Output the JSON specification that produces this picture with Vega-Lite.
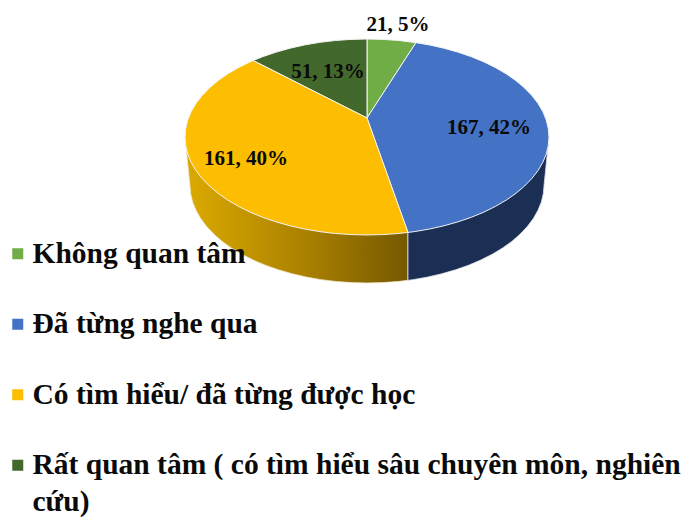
{"$schema":"https://vega.github.io/schema/vega-lite/v6.json","width":685,"height":517,"padding":0,"autosize":"none","background":"white","config":{"view":{"stroke":null},"style":{"guide-label":{"lineHeight":37}}},
"datasets":{
"slices":[
{"k":"G","name":"Không quan tâm","value":21,"pct":5,"label":"21, 5%","lx":0.170,"ly":1.143},
{"k":"B","name":"Đã từng nghe qua","value":167,"pct":42,"label":"167, 42%","lx":0.670,"ly":0.092},
{"k":"Y","name":"Có tìm hiểu/ đã từng được học","value":161,"pct":40,"label":"161, 40%","lx":-0.665,"ly":-0.224},
{"k":"D","name":"Rất quan tâm ( có tìm hiểu sâu chuyên môn, nghiên cứu)","value":51,"pct":13,"label":"51, 13%","lx":-0.214,"ly":0.663}],
"top":[
{"k":"G","i":0,"x":0,"y":0.194},{"k":"G","i":1,"x":0,"y":1},{"k":"G","i":2,"x":0.087,"y":0.996},{"k":"G","i":3,"x":0.174,"y":0.985},{"k":"G","i":4,"x":0.269,"y":0.963},{"k":"G","i":5,"x":0,"y":0.194},
{"k":"D","i":0,"x":0,"y":0.194},{"k":"D","i":1,"x":-0.626,"y":0.78},{"k":"D","i":2,"x":-0.574,"y":0.819},{"k":"D","i":3,"x":-0.5,"y":0.866},{"k":"D","i":4,"x":-0.423,"y":0.906},{"k":"D","i":5,"x":-0.342,"y":0.94},{"k":"D","i":6,"x":-0.259,"y":0.966},{"k":"D","i":7,"x":-0.174,"y":0.985},{"k":"D","i":8,"x":-0.087,"y":0.996},{"k":"D","i":9,"x":0,"y":1},{"k":"D","i":10,"x":0,"y":0.194},
{"k":"B","i":0,"x":0,"y":0.194},{"k":"B","i":1,"x":0.269,"y":0.963},{"k":"B","i":2,"x":0.342,"y":0.94},{"k":"B","i":3,"x":0.423,"y":0.906},{"k":"B","i":4,"x":0.5,"y":0.866},{"k":"B","i":5,"x":0.574,"y":0.819},{"k":"B","i":6,"x":0.643,"y":0.766},{"k":"B","i":7,"x":0.707,"y":0.707},{"k":"B","i":8,"x":0.766,"y":0.643},{"k":"B","i":9,"x":0.819,"y":0.574},{"k":"B","i":10,"x":0.866,"y":0.5},{"k":"B","i":11,"x":0.906,"y":0.423},{"k":"B","i":12,"x":0.94,"y":0.342},{"k":"B","i":13,"x":0.966,"y":0.259},{"k":"B","i":14,"x":0.985,"y":0.174},{"k":"B","i":15,"x":0.996,"y":0.087},{"k":"B","i":16,"x":1,"y":0},{"k":"B","i":17,"x":0.996,"y":-0.087},{"k":"B","i":18,"x":0.985,"y":-0.174},{"k":"B","i":19,"x":0.966,"y":-0.259},{"k":"B","i":20,"x":0.94,"y":-0.342},{"k":"B","i":21,"x":0.906,"y":-0.423},{"k":"B","i":22,"x":0.866,"y":-0.5},{"k":"B","i":23,"x":0.819,"y":-0.574},{"k":"B","i":24,"x":0.766,"y":-0.643},{"k":"B","i":25,"x":0.707,"y":-0.707},{"k":"B","i":26,"x":0.643,"y":-0.766},{"k":"B","i":27,"x":0.574,"y":-0.819},{"k":"B","i":28,"x":0.5,"y":-0.866},{"k":"B","i":29,"x":0.423,"y":-0.906},{"k":"B","i":30,"x":0.342,"y":-0.94},{"k":"B","i":31,"x":0.259,"y":-0.966},{"k":"B","i":32,"x":0.225,"y":-0.974},{"k":"B","i":33,"x":0,"y":0.194},
{"k":"Y","i":0,"x":0,"y":0.194},{"k":"Y","i":1,"x":-0.626,"y":0.78},{"k":"Y","i":2,"x":-0.643,"y":0.766},{"k":"Y","i":3,"x":-0.707,"y":0.707},{"k":"Y","i":4,"x":-0.766,"y":0.643},{"k":"Y","i":5,"x":-0.819,"y":0.574},{"k":"Y","i":6,"x":-0.866,"y":0.5},{"k":"Y","i":7,"x":-0.906,"y":0.423},{"k":"Y","i":8,"x":-0.94,"y":0.342},{"k":"Y","i":9,"x":-0.966,"y":0.259},{"k":"Y","i":10,"x":-0.985,"y":0.174},{"k":"Y","i":11,"x":-0.996,"y":0.087},{"k":"Y","i":12,"x":-1,"y":0},{"k":"Y","i":13,"x":-0.996,"y":-0.087},{"k":"Y","i":14,"x":-0.985,"y":-0.174},{"k":"Y","i":15,"x":-0.966,"y":-0.259},{"k":"Y","i":16,"x":-0.94,"y":-0.342},{"k":"Y","i":17,"x":-0.906,"y":-0.423},{"k":"Y","i":18,"x":-0.866,"y":-0.5},{"k":"Y","i":19,"x":-0.819,"y":-0.574},{"k":"Y","i":20,"x":-0.766,"y":-0.643},{"k":"Y","i":21,"x":-0.707,"y":-0.707},{"k":"Y","i":22,"x":-0.643,"y":-0.766},{"k":"Y","i":23,"x":-0.574,"y":-0.819},{"k":"Y","i":24,"x":-0.5,"y":-0.866},{"k":"Y","i":25,"x":-0.423,"y":-0.906},{"k":"Y","i":26,"x":-0.342,"y":-0.94},{"k":"Y","i":27,"x":-0.259,"y":-0.966},{"k":"Y","i":28,"x":-0.174,"y":-0.985},{"k":"Y","i":29,"x":-0.087,"y":-0.996},{"k":"Y","i":30,"x":0,"y":-1},{"k":"Y","i":31,"x":0.087,"y":-0.996},{"k":"Y","i":32,"x":0.174,"y":-0.985},{"k":"Y","i":33,"x":0.225,"y":-0.974},{"k":"Y","i":34,"x":0,"y":0.194}],
"wallY":[
{"i":0,"x":-1,"y":0},{"i":1,"x":-0.973,"y":-0.49},{"i":2,"x":-0.969,"y":-0.577},{"i":3,"x":-0.958,"y":-0.664},{"i":4,"x":-0.939,"y":-0.749},{"i":5,"x":-0.914,"y":-0.832},{"i":6,"x":-0.881,"y":-0.913},{"i":7,"x":-0.842,"y":-0.99},{"i":8,"x":-0.797,"y":-1.064},{"i":9,"x":-0.745,"y":-1.133},{"i":10,"x":-0.688,"y":-1.197},{"i":11,"x":-0.625,"y":-1.256},{"i":12,"x":-0.558,"y":-1.309},{"i":13,"x":-0.486,"y":-1.356},{"i":14,"x":-0.411,"y":-1.396},{"i":15,"x":-0.333,"y":-1.43},{"i":16,"x":-0.252,"y":-1.456},{"i":17,"x":-0.169,"y":-1.475},{"i":18,"x":-0.085,"y":-1.486},{"i":19,"x":0,"y":-1.49},{"i":20,"x":0.085,"y":-1.486},{"i":21,"x":0.169,"y":-1.475},{"i":22,"x":0.225,"y":-1.463},{"i":23,"x":0.225,"y":-0.974},{"i":24,"x":0,"y":0},{"i":25,"x":-1,"y":0}],
"wallB":[
{"i":0,"x":0.225,"y":-1.463},{"i":1,"x":0.252,"y":-1.456},{"i":2,"x":0.333,"y":-1.43},{"i":3,"x":0.411,"y":-1.396},{"i":4,"x":0.486,"y":-1.356},{"i":5,"x":0.558,"y":-1.309},{"i":6,"x":0.625,"y":-1.256},{"i":7,"x":0.688,"y":-1.197},{"i":8,"x":0.745,"y":-1.133},{"i":9,"x":0.797,"y":-1.064},{"i":10,"x":0.842,"y":-0.99},{"i":11,"x":0.881,"y":-0.913},{"i":12,"x":0.914,"y":-0.832},{"i":13,"x":0.939,"y":-0.749},{"i":14,"x":0.958,"y":-0.664},{"i":15,"x":0.969,"y":-0.577},{"i":16,"x":0.973,"y":-0.49},{"i":17,"x":1,"y":0},{"i":18,"x":0,"y":0},{"i":19,"x":0.225,"y":-0.974},{"i":20,"x":0.225,"y":-1.463}]
},
"layer":[
{"data":{"name":"wallY"},"mark":{"type":"line","strokeWidth":0.8,"stroke":"#efe6cc","fill":{"gradient":"linear","x1":0,"y1":0,"x2":1,"y2":0,"stops":[{"offset":0,"color":"#DCAA00"},{"offset":0.5,"color":"#AE8400"},{"offset":1,"color":"#765900"}]}},
"encoding":{"x":{"field":"x","type":"quantitative","scale":{"domain":[-2.0165,1.7473],"nice":false,"zero":false},"axis":null},"y":{"field":"y","type":"quantitative","scale":{"domain":[-3.878,1.398],"nice":false,"zero":false},"axis":null},"order":{"field":"i"}}},
{"data":{"name":"wallB"},"mark":{"type":"line","strokeWidth":0.8,"stroke":"#dfe3ea","fill":{"gradient":"linear","x1":0,"y1":0,"x2":1,"y2":0,"stops":[{"offset":0,"color":"#1F3864"},{"offset":0.15,"color":"#1B2E54"},{"offset":1,"color":"#1B2E54"}]}},
"encoding":{"x":{"field":"x","type":"quantitative","scale":{"domain":[-2.0165,1.7473],"nice":false,"zero":false},"axis":null},"y":{"field":"y","type":"quantitative","scale":{"domain":[-3.878,1.398],"nice":false,"zero":false},"axis":null},"order":{"field":"i"}}},
{"data":{"name":"top"},"transform":[{"lookup":"k","from":{"data":{"name":"slices"},"key":"k","fields":["name"]}}],
"mark":{"type":"line","filled":true,"stroke":"#f4f4f4","strokeWidth":1},
"encoding":{"x":{"field":"x","type":"quantitative","scale":{"domain":[-2.0165,1.7473],"nice":false,"zero":false},"axis":null},"y":{"field":"y","type":"quantitative","scale":{"domain":[-3.878,1.398],"nice":false,"zero":false},"axis":null},"order":{"field":"i"},
"color":{"field":"name","type":"nominal","scale":{"domain":["Không quan tâm","Đã từng nghe qua","Có tìm hiểu/ đã từng được học","Rất quan tâm ( có tìm hiểu sâu chuyên môn, nghiên cứu)"],"range":["#70AD47","#4472C4","#FDBD00","#43682B"]},
"legend":{"title":null,"orient":"none","legendX":3,"legendY":239,"symbolType":"square","symbolSize":121,"symbolStrokeWidth":0,"labelFont":"Liberation Serif","labelFontWeight":"bold","labelFontSize":29.5,"labelColor":"#0a0a0a","labelLimit":0,"labelOffset":0,"rowPadding":39.5,"labelExpr":"split(replace(datum.label,' cứu)','\\ncứu)'),'\\n')","clipHeight":0}}}},
{"data":{"name":"slices"},"mark":{"type":"text","font":"Liberation Serif","fontWeight":"bold","fontSize":21,"color":"#0a0a0a"},
"encoding":{"x":{"field":"lx","type":"quantitative","scale":{"domain":[-2.0165,1.7473],"nice":false,"zero":false},"axis":null},"y":{"field":"ly","type":"quantitative","scale":{"domain":[-3.878,1.398],"nice":false,"zero":false},"axis":null},"text":{"field":"label"}}}
]}
